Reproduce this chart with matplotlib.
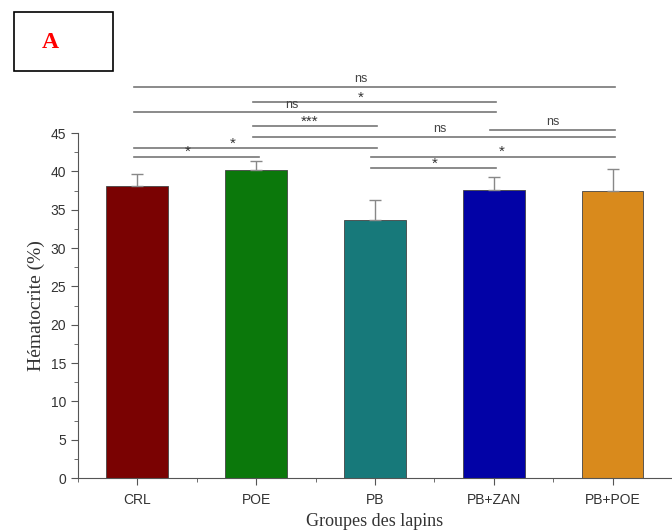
import matplotlib
matplotlib.use('Agg')
import matplotlib.pyplot as plt
from matplotlib.patches import Rectangle
from matplotlib.ticker import MultipleLocator

groups = ['CRL', 'POE', 'PB', 'PB+ZAN', 'PB+POE']
hematocrite = [38.1, 40.2, 33.7, 37.6, 37.5]
sd = [1.5, 1.1, 2.6, 1.7, 2.8]
colors = ['#7a0202', '#0b780b', '#17797a', '#0202a6', '#d98a1c']

# comparisons: (group a, group b, bar height, label, label x)
comp_a = [1, 2, 1, 2, 4, 2, 1, 1, 3, 3]
comp_b = [5, 4, 4, 3, 5, 5, 3, 2, 5, 4]
comp_y = [51.0, 49.0, 47.7, 45.9, 45.4, 44.5, 43.0, 41.9, 41.9, 40.4]
comp_lab = ['ns', '*', 'ns', '***', 'ns', 'ns', '*', '*', '*', '*']
comp_tx = [2.88, 2.88, 2.3, 2.45, 4.5, 3.55, 1.8, 1.42, 4.07, 3.5]

fig = plt.figure(figsize=(6.72, 5.30), dpi=100)
ax = fig.add_axes([0.116, 0.098, 0.884, 0.651])

x = list(range(1, len(groups) + 1))
ax.bar(x, hematocrite, width=0.52, color=colors, edgecolor='#444444', linewidth=0.6, zorder=2)
ax.errorbar(x, hematocrite, yerr=[[0] * len(sd), sd], fmt='none', ecolor='#888888',
            elinewidth=1, capsize=4, capthick=1, zorder=3)

for a, b, yy, lab, tx in zip(comp_a, comp_b, comp_y, comp_lab, comp_tx):
    ax.plot([a - 0.03, b + 0.02], [yy, yy], color='#777777', lw=1.2, clip_on=False)
    if lab == 'ns':
        ax.text(tx, yy + 0.2, lab, ha='center', va='bottom', fontsize=9,
                color='#444444', family='Liberation Sans')
    else:
        ax.text(tx, yy - 0.3, lab, ha='center', va='bottom', fontsize=11,
                color='#333333', family='Liberation Sans')

ax.set_xlim(0.5, 5.5)
ax.set_ylim(0, 45)
ax.set_xticks(x)
ax.set_xticklabels(groups, family='Liberation Sans', fontsize=10, color='#333333')
ax.xaxis.set_minor_locator(MultipleLocator(0.5))
ax.yaxis.set_major_locator(MultipleLocator(5))
ax.yaxis.set_minor_locator(MultipleLocator(2.5))
for lbl in ax.get_yticklabels():
    lbl.set_family('Liberation Sans')
    lbl.set_color('#333333')
ax.tick_params(axis='both', which='major', direction='out', length=5, labelsize=10, color='#555555')
ax.tick_params(axis='x', which='major', pad=6)
ax.tick_params(axis='both', which='minor', direction='out', length=3, color='#555555')
ax.spines['top'].set_visible(False)
ax.spines['right'].set_visible(False)
ax.spines['left'].set_color('#555555')
ax.spines['bottom'].set_color('#555555')

ax.set_ylabel('Hématocrite (%)', family='Liberation Serif', fontsize=14, color='#333333')
ax.set_xlabel('Groupes des lapins', family='Liberation Serif', fontsize=13, color='#333333')

fig.patches.append(Rectangle((14 / 672, 1 - 71 / 530), 99 / 672, 59 / 530,
                             transform=fig.transFigure, fill=False, edgecolor='black', lw=1.2))
fig.text(50 / 672, 1 - 43 / 530, 'A', color='red', fontsize=17, fontweight='bold',
         family='Liberation Serif', ha='center', va='center')

fig.savefig('out.png', dpi=100)
